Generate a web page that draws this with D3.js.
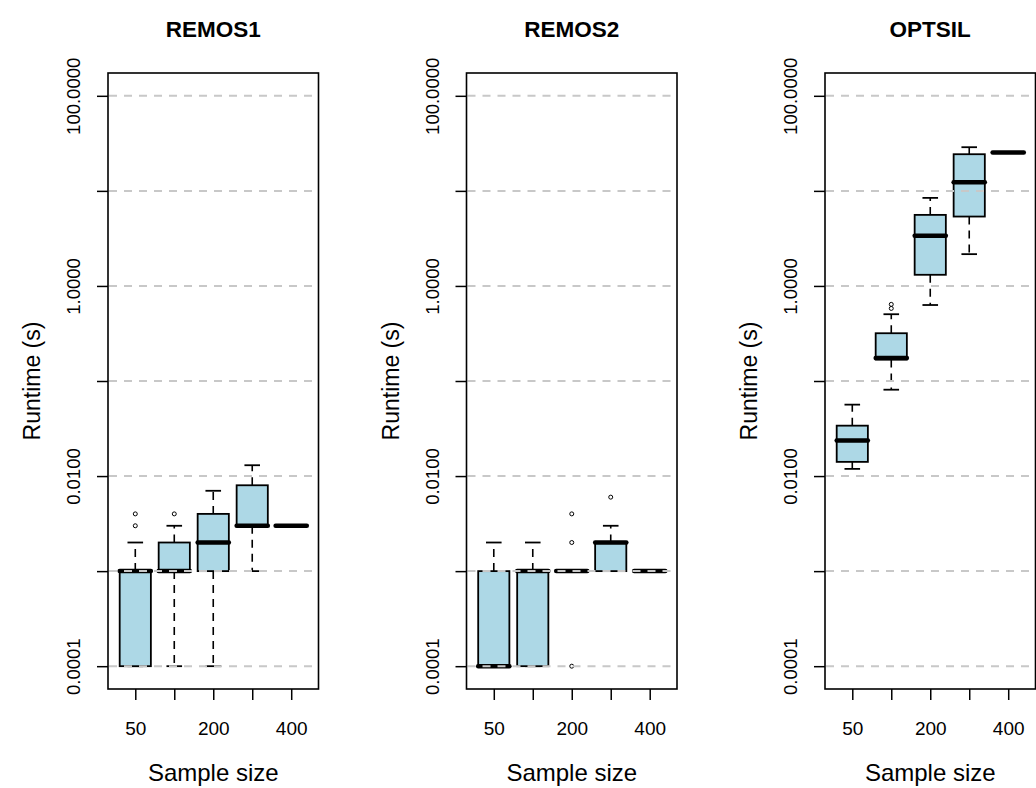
<!DOCTYPE html>
<html>
<head>
<meta charset="utf-8">
<script src="https://cdn.jsdelivr.net/npm/d3@7"></script>
<style>
  body { margin: 0; background: #fff; }
  svg { display: block; font-family: "Liberation Sans", Arial, sans-serif; }
</style>
</head>
<body>
<svg width="1036" height="788"></svg>
<script>
// sample sizes on the x axis (R drops the 100 and 300 labels because they overlap)
const sampleSizes = [50, 100, 200, 300, 400];
const panelTitles = ["REMOS1", "REMOS2", "OPTSIL"];

// log axis ticks and the ones that get a label
const yTickValues = [0.0001, 0.001, 0.01, 0.1, 1, 10, 100];
const yLabelValues = [0.0001, 0.01, 1, 100];

// box stats per sample size: [lower whisker, q1, median, q3, upper whisker]
const remos1Stats = [
    [0.0001, 0.0001, 0.001, 0.001, 0.002],
    [0.0001, 0.001, 0.001, 0.002, 0.003],
    [0.0001, 0.001, 0.002, 0.004, 0.007],
    [0.001, 0.003, 0.003, 0.008, 0.013],
    [0.003, 0.003, 0.003, 0.003, 0.003]
];
const remos1Outliers = [[0.003, 0.004], [0.004], [], [], []];

const remos2Stats = [
    [0.0001, 0.0001, 0.0001, 0.001, 0.002],
    [0.0001, 0.0001, 0.001, 0.001, 0.002],
    [0.001, 0.001, 0.001, 0.001, 0.001],
    [0.001, 0.001, 0.002, 0.002, 0.003],
    [0.001, 0.001, 0.001, 0.001, 0.001]
];
const remos2Outliers = [[], [], [0.0001, 0.002, 0.004], [0.006], []];

const optsilStats = [
    [0.0119, 0.0141, 0.0237, 0.0339, 0.0564],
    [0.081, 0.168, 0.175, 0.318, 0.504],
    [0.63, 1.31, 3.38, 5.59, 8.44],
    [2.16, 5.37, 12.3, 24.3, 28.8],
    [25.3, 25.3, 25.3, 25.3, 25.3]
];
const optsilOutliers = [[], [0.58, 0.64], [], [], []];


const svg = d3.select("svg");

const attr_area = {
    left0: 108,
    step: 358.5,
    width: 210.5,
    top: 73,
    bottom: 689
};

function drawPanel(idx, title, stats, outliers) {
    const left = attr_area.left0 + idx * attr_area.step;
    const g = svg.append("g").attr("transform", `translate(${left},0)`);

    // R boxplot: xlim 0.5..5.5 plus 4% on each side
    const scX = d3.scaleLinear()
        .domain([0.3, 5.7])
        .range([0, attr_area.width]);
    // ylim 1e-4..100 on log scale, extended 4%
    const scY = d3.scaleLog()
        .domain([Math.pow(10, -4.24), Math.pow(10, 2.24)])
        .range([attr_area.bottom, attr_area.top]);

    const half = (scX(1.4) - scX(1)) ;   // boxwex 0.8
    const staple = half / 2;

    // boxes
    stats.forEach((s, i) => {
        const cx = scX(i + 1);
        const [lo, q1, med, q3, hi] = s;
        // whiskers
        [[q3, hi], [q1, lo]].forEach(([a, b]) => {
            if (a === b) return;
            g.append("line")
                .attr("x1", cx).attr("x2", cx)
                .attr("y1", scY(a)).attr("y2", scY(b))
                .attr("stroke", "#000").attr("stroke-width", 1.6)
                .attr("stroke-dasharray", "8,6");
        });
        [lo, hi].forEach(v => {
            g.append("line")
                .attr("x1", cx - staple).attr("x2", cx + staple)
                .attr("y1", scY(v)).attr("y2", scY(v))
                .attr("stroke", "#000").attr("stroke-width", 1.8);
        });
        g.append("rect")
            .attr("x", cx - half)
            .attr("y", scY(q3))
            .attr("width", 2 * half)
            .attr("height", scY(q1) - scY(q3))
            .attr("fill", "#add8e6")
            .attr("stroke", "#000")
            .attr("stroke-width", 1.8);
        g.append("line")
            .attr("x1", cx - half).attr("x2", cx + half)
            .attr("y1", scY(med)).attr("y2", scY(med))
            .attr("stroke", "#000").attr("stroke-width", 4.5)
            .attr("stroke-linecap", "round");
    });

    // outliers
    outliers.forEach((arr, i) => {
        g.selectAll(null)
            .data(arr)
            .enter()
            .append("circle")
            .attr("cx", scX(i + 1))
            .attr("cy", d => scY(d))
            .attr("r", 2)
            .attr("fill", "none")
            .attr("stroke", "#000")
            .attr("stroke-width", 1);
    });

    // dashed gray grid, drawn on top like abline()
    g.selectAll(".grid")
        .data(yTickValues)
        .enter()
        .append("line")
        .attr("class", "grid")
        .attr("x1", 1).attr("x2", attr_area.width - 1)
        .attr("y1", d => scY(d)).attr("y2", d => scY(d))
        .attr("stroke", "#c8c8c8")
        .attr("stroke-width", 2)
        .attr("stroke-dasharray", "8,7");

    // axes
    const axisY = d3.axisLeft(scY)
        .tickValues(yTickValues)
        .tickSize(11)
        .tickFormat(d => yLabelValues.includes(d) ? d3.format(".4f")(d) : "");
    const gy = g.append("g").call(axisY);
    gy.select(".domain").remove();
    gy.selectAll("line").attr("stroke", "#000").attr("stroke-width", 1.5);
    gy.selectAll("text")
        .attr("transform", "rotate(-90)")
        .attr("x", 0)
        .attr("y", -28)
        .attr("dy", 0)
        .style("text-anchor", "middle")
        .style("font-size", "18.5px")
        .style("font-family", "Liberation Sans, Arial, sans-serif")
        .attr("fill", "#000");

    const axisX = d3.axisBottom(scX)
        .tickValues([1, 2, 3, 4, 5])
        .tickSize(11)
        .tickFormat((d, i) => i % 2 === 0 ? sampleSizes[i] : "");
    const gx = g.append("g")
        .attr("transform", `translate(0,${attr_area.bottom})`)
        .call(axisX);
    gx.select(".domain").remove();
    gx.selectAll("line").attr("stroke", "#000").attr("stroke-width", 1.5);
    gx.selectAll("text")
        .attr("y", 46)
        .attr("dy", 0)
        .style("font-size", "19px")
        .style("font-family", "Liberation Sans, Arial, sans-serif")
        .attr("fill", "#000");

    // panel frame
    g.append("rect")
        .attr("x", 0).attr("y", attr_area.top)
        .attr("width", attr_area.width)
        .attr("height", attr_area.bottom - attr_area.top)
        .attr("fill", "none")
        .attr("stroke", "#000")
        .attr("stroke-width", 1.6);

    // titles and labels
    g.append("text")
        .attr("x", attr_area.width / 2)
        .attr("y", 37)
        .attr("text-anchor", "middle")
        .style("font-size", "22.5px")
        .style("font-weight", "bold")
        .text(title);

    g.append("text")
        .attr("x", attr_area.width / 2)
        .attr("y", 781)
        .attr("text-anchor", "middle")
        .style("font-size", "24px")
        .text("Sample size");

    g.append("text")
        .attr("transform", `translate(-68,${(attr_area.top + attr_area.bottom) / 2}) rotate(-90)`)
        .attr("text-anchor", "middle")
        .style("font-size", "23px")
        .text("Runtime (s)");
}

drawPanel(0, panelTitles[0], remos1Stats, remos1Outliers);
drawPanel(1, panelTitles[1], remos2Stats, remos2Outliers);
drawPanel(2, panelTitles[2], optsilStats, optsilOutliers);
</script>
</body>
</html>
